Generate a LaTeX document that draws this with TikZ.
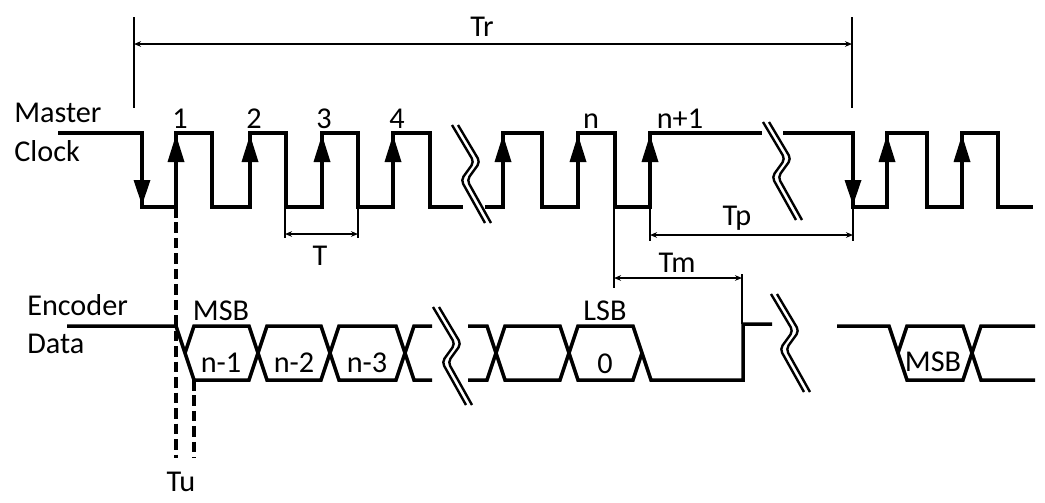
\documentclass[tikz,border=0pt]{standalone}
\usepackage{fontspec}
\setmainfont{Carlito}
\usetikzlibrary{arrows.meta}
\begin{document}
\begin{tikzpicture}[x=0.025cm,y=-0.025cm]
\tikzstyle{every node}=[font=\fontsize{21.5}{25}\selectfont, inner sep=0pt]
\tikzstyle{clk}=[line width=3pt, line join=miter]
\tikzstyle{bus}=[line width=2.5pt, line join=miter]
\tikzstyle{dim}=[line width=0.8pt]
\tikzstyle{dimarrow}=[line width=0.8pt, {Stealth[length=5pt,width=4pt]}-{Stealth[length=5pt,width=4pt]}]
\tikzstyle{brk}=[line width=1.7pt, rounded corners=3pt]
\tikzstyle{tuline}=[line width=2.4pt, dash pattern=on 7.5pt off 3.5pt]

% page size as in the reference
\useasboundingbox (0,0) rectangle (1045,502);

% signal names
\node[anchor=base west] (master) at (14,122) {Master};
\node[anchor=base west] (clock) at (14,161) {Clock};
\node[anchor=base west] (encoder) at (27,315) {Encoder};
\node[anchor=base west] (data) at (27,353) {Data};

% master clock
\draw[clk] (58,133) -| (142,207) -| (176,133) -| (212,207) -| (250,133) -| (286,207)
  -| (322,133) -| (358,207) -| (393,133) -| (430,207) -- (463,207);
\draw[clk] (485,207) -| (503,133) -| (542,207) -| (578,133) -| (615,207) -| (650,133) -- (762,133);
\draw[clk] (783,133) -| (853,207) -| (887,133) -| (927,207) -| (962,133) -| (998,207) -- (1033,207);

% edge arrows
\foreach \x in {176,250,322,393,503,578,650,887,962}
  \fill (\x,135) -- (\x-8.5,162) -- (\x+8.5,162) -- cycle;
\foreach \x in {142,853}
  \fill (\x,205) -- (\x-8.5,180) -- (\x+8.5,180) -- cycle;

% clock numbers
\node[anchor=base] (c1) at (180,128) {1};
\node[anchor=base] (c2) at (254,128) {2};
\node[anchor=base] (c3) at (324,128) {3};
\node[anchor=base] (c4) at (397,128) {4};
\node[anchor=base] (cn) at (591,128) {n};
\node[anchor=base] (cn1) at (680,128) {n+1};

% encoder data
\draw[bus] (67,326) -- (176,326) -- (194,380) -- (249,380) -- (267,326) -- (321,326)
  -- (339,380) -- (396,380) -- (414,326) -- (432,326);
\draw[bus] (185,353) -- (194,326) -- (249,326) -- (267,380) -- (321,380) -- (339,326)
  -- (396,326) -- (414,380) -- (432,380);
\draw[bus] (468,326) -- (487,326) -- (505,380) -- (560,380) -- (578,326) -- (633,326)
  -- (651,380) -- (743,380) -- (743,324) -- (772,324);
\draw[bus] (468,380) -- (487,380) -- (505,326) -- (560,326) -- (578,380) -- (633,380) -- (642,353);
\draw[bus] (837,326) -- (889,326) -- (907,380) -- (963,380) -- (981,326) -- (1035,326);
\draw[bus] (898,353) -- (907,326) -- (963,326) -- (981,380) -- (1035,380);

% data labels
\node[anchor=base] (msb) at (221,320) {MSB};
\node (bn1) at (221,363) {n-1};
\node (bn2) at (294,363) {n-2};
\node (bn3) at (367,363) {n-3};
\node[anchor=base] (lsb) at (605,320) {LSB};
\node (b0) at (605,364) {0};
\node (msb2) at (933,362) {MSB};

% break marks
\foreach \cx/\cy in {469/174, 780/171, 450/356, 788/343}
  \foreach \dx in {0,6}
    \draw[brk] ({\cx+\dx-17},{\cy-49}) -- ({\cx+\dx+5},{\cy-12}) -- ({\cx+\dx-8},{\cy+6}) -- ({\cx+\dx+16},{\cy+49});

% Tr
\coordinate (trA) at (134,44);
\coordinate (trB) at (852,44);
\draw[dim] (134,17) -- (134,108);
\draw[dim] (852,17) -- (852,108);
\draw[dimarrow] (trA) -- (trB);
\node[anchor=base] (tr) at (482,36) {Tr};

% T
\coordinate (tA) at (285,234);
\coordinate (tB) at (358,234);
\draw[dim] (285,207) -- (285,238);
\draw[dim] (358,207) -- (358,238);
\draw[dimarrow] (tA) -- (tB);
\node[anchor=base] (t) at (320,265) {T};

% Tp
\coordinate (tpA) at (650,235);
\coordinate (tpB) at (853,235);
\draw[dim] (650,207) -- (650,241);
\draw[dim] (853,207) -- (853,241);
\draw[dimarrow] (tpA) -- (tpB);
\node[anchor=base] (tp) at (737,225) {Tp};

% Tm
\coordinate (tmA) at (614,278);
\coordinate (tmB) at (742,278);
\draw[dim] (614,207) -- (614,288);
\draw[dim] (742,274) -- (742,324);
\draw[dimarrow] (tmA) -- (tmB);
\node[anchor=base] (tm) at (677,272) {Tm};

% Tu
\draw[tuline] (176,207) -- (176,458);
\draw[tuline] (194,380) -- (194,458);
\node[anchor=base] (tu) at (181,491) {Tu};

\end{tikzpicture}
\end{document}
